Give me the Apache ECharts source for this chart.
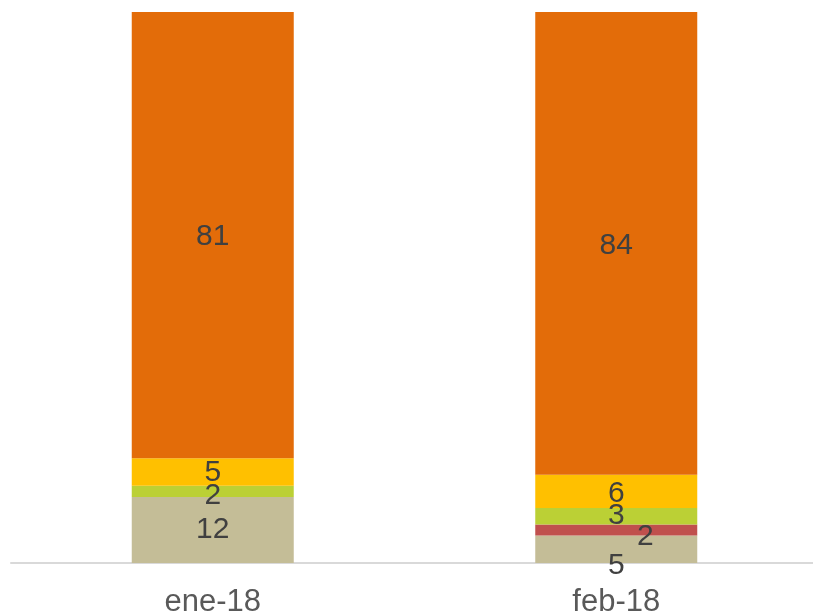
<!DOCTYPE html>
<html>
<head>
<meta charset="utf-8">
<script src="https://cdn.jsdelivr.net/npm/echarts@6/dist/echarts.min.js"></script>
<style>
  html, body { margin: 0; padding: 0; background: #fff; overflow: hidden; }
  #chart { width: 830px; height: 615px; }
</style>
</head>
<body>
<div id="chart"></div>
<script>
// Monthly composition (percent of total), stacked bottom to top
const months = ['ene-18', 'feb-18'];
const beige  = [12, 5];
const red    = [0, 2];
const green  = [2, 3];
const yellow = [5, 6];
const orange = [81, 84];

// Series styling, kept apart from the values
const layers = [
  { name: 'A', values: beige,  color: '#C4BD97' },
  { name: 'B', values: red,    color: '#C0504D' },
  { name: 'C', values: green,  color: '#BBD035' },
  { name: 'D', values: yellow, color: '#FFC000' },
  { name: 'E', values: orange, color: '#E36C09' }
];

// Nudges for labels of thin segments (per month [dx, dy])
const nudges = {
  A: [[0, 0], [0, 17]],
  B: [[0, 0], [29, 7]],
  C: [[0, 4], [0, 0]],
  D: [[0, 1], [0, 2]],
  E: [[0, 2], [0, 2]]
};

const FONT = '"Liberation Sans", Arial, sans-serif';

const series = layers.map(l => ({
  name: l.name,
  type: 'bar',
  stack: 'total',
  barWidth: 162,
  itemStyle: { color: l.color },
  data: l.values.map((v, i) => ({
    value: v,
    label: {
      show: v > 0,
      position: 'inside',
      offset: nudges[l.name][i],
      formatter: String(v),
      color: '#404040',
      fontSize: 30,
      fontFamily: FONT
    }
  }))
}));

const chart = echarts.init(document.getElementById('chart'));
chart.setOption({
  animation: false,
  grid: {
    left: 11, right: 12, top: 12, bottom: 52,
    containLabel: false,
    outerBoundsMode: 'none'
  },
  xAxis: {
    type: 'category',
    data: months,
    axisLine: { lineStyle: { color: '#D9D9D9', width: 2 } },
    axisTick: { show: false },
    axisLabel: { color: '#595959', fontSize: 31, fontFamily: FONT, margin: 24 }
  },
  yAxis: {
    type: 'value',
    min: 0,
    max: 100,
    show: false,
    splitLine: { show: false }
  },
  series: series
});
</script>
</body>
</html>
